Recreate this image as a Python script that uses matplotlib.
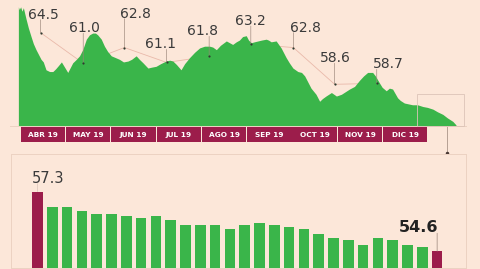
import matplotlib
matplotlib.use("Agg")
import matplotlib.pyplot as plt
from matplotlib.patches import Rectangle

# --- data ---
months = ["ABR 19", "MAY 19", "JUN 19", "JUL 19", "AGO 19",
          "SEP 19", "OCT 19", "NOV 19", "DIC 19"]

# daily series, x in months since start of April
area_x = [-0.04, -0.02, 0.01, 0.04, 0.07, 0.13, 0.18, 0.24, 0.29, 0.35,
          0.40, 0.46, 0.51, 0.57, 0.65, 0.72, 0.78, 0.83, 0.91, 0.98,
          1.05, 1.11, 1.16, 1.24, 1.31, 1.38, 1.46, 1.53, 1.60, 1.66,
          1.71, 1.79, 1.86, 1.93, 2.01, 2.10, 2.19, 2.28, 2.38, 2.46,
          2.56, 2.63, 2.71, 2.82, 2.90, 3.00, 3.10, 3.22, 3.30, 3.37,
          3.45, 3.55, 3.63, 3.74, 3.85, 3.96, 4.07, 4.18, 4.25, 4.33,
          4.42, 4.55, 4.62, 4.69, 4.77, 4.84, 4.91, 4.99, 5.04, 5.10,
          5.17, 5.25, 5.33, 5.43, 5.48, 5.54, 5.65, 5.76, 5.87, 5.94,
          6.02, 6.13, 6.21, 6.28, 6.34, 6.42, 6.53, 6.61, 6.67, 6.75,
          6.87, 6.98, 7.09, 7.18, 7.27, 7.38, 7.49, 7.58, 7.67, 7.78,
          7.84, 7.93, 7.99, 8.08, 8.15, 8.22, 8.33, 8.39, 8.48, 8.57,
          8.66, 8.77, 8.89, 8.99, 9.11, 9.21, 9.33, 9.43, 9.55, 9.62]
area_v = [67.4, 67.1, 67.4, 66.9, 67.3, 66.0, 65.0, 64.0, 63.2, 62.5,
          62.0, 61.4, 61.1, 60.2, 60.0, 60.0, 60.3, 60.6, 61.1, 60.5,
          59.9, 60.5, 61.0, 61.4, 61.8, 62.5, 63.7, 64.2, 64.4, 64.4,
          64.2, 63.7, 62.9, 62.3, 61.8, 61.6, 61.4, 61.1, 61.2, 61.4,
          61.8, 61.4, 61.0, 60.4, 60.5, 60.6, 60.9, 61.2, 61.3, 61.2,
          60.8, 60.2, 60.9, 61.6, 62.2, 62.7, 62.9, 62.9, 62.8, 62.5,
          63.0, 63.5, 63.3, 63.1, 63.4, 63.6, 64.0, 64.1, 63.6, 63.3,
          63.4, 63.5, 63.6, 63.7, 63.6, 63.4, 63.5, 62.7, 61.6, 61.0,
          60.4, 60.0, 59.9, 59.5, 58.9, 58.1, 57.4, 56.6, 56.9, 57.2,
          57.6, 57.2, 57.4, 57.7, 58.0, 58.3, 59.0, 59.5, 59.9, 59.9,
          59.5, 58.7, 58.2, 57.8, 58.1, 58.0, 57.0, 56.7, 56.4, 56.3,
          56.2, 56.2, 56.0, 55.9, 55.7, 55.4, 55.1, 54.7, 54.3, 53.9]

# monthly reference points
avg_x = [0.44, 1.38, 2.29, 3.22, 4.16, 5.08, 6.02, 6.93, 7.86]
avg_v = [64.5, 61.0, 62.8, 61.1, 61.8, 63.2, 62.8, 58.6, 58.7]

# lower panel bars
bar_v = [57.3, 56.6, 56.6, 56.4, 56.3, 56.3, 56.2, 56.1, 56.2, 56.0,
         55.8, 55.8, 55.8, 55.6, 55.8, 55.9, 55.8, 55.7, 55.6, 55.4,
         55.2, 55.1, 54.9, 55.2, 55.1, 54.9, 54.8, 54.6]

# label placement (pixels: dx of text centre, height of text baseline above point)
label_off = [(3, 14), (1, 31), (11, 30), (-6, 14), (-7, 21),
             (0, 19), (12, 16), (1, 22), (12, 15)]

bg = "#fce7d9"
green = "#3ab54a"
wine = "#9c1d4b"
faint = "#ecd2c2"
txt = "#3a3a3a"

W, H = 480.0, 269.0
fig = plt.figure(figsize=(W / 100, H / 100), dpi=100)
fig.patch.set_facecolor(bg)


def px_axes(x0, y0, x1, y1):
    # axes box given in figure pixels, y measured from the top
    return fig.add_axes([x0 / W, 1 - y1 / H, (x1 - x0) / W, (y1 - y0) / H])


# ---- top: area chart ----
ax = px_axes(10, 0, 466, 126)
ax.set_facecolor(bg)
ax.set_xlim(-0.236, 9.83)
ax.set_ylim(53.83, 68.24)
for s in ["top", "left", "right"]:
    ax.spines[s].set_visible(False)
ax.spines["bottom"].set_color(faint)
ax.spines["bottom"].set_linewidth(0.7)
ax.set_xticks([])
ax.set_yticks([])

ax.plot(avg_x, avg_v, color="#e9b9aa", lw=0.6, zorder=1)
ax.fill_between(area_x, area_v, 0, color=green, lw=0, zorder=2)
ax.scatter(avg_x, avg_v, s=2.5, color="#2f3a2f", zorder=4, lw=0)

for xv, yv, (dx, dy) in zip(avg_x, avg_v, label_off):
    ax.annotate("", xy=(xv, yv), xytext=(0, dy - 1), textcoords="offset pixels",
                arrowprops=dict(arrowstyle="-", color="#9a8578", lw=0.45,
                                shrinkA=0, shrinkB=0), zorder=3)
    ax.annotate(f"{yv:.1f}", xy=(xv, yv), xytext=(dx, dy),
                textcoords="offset pixels", ha="center", va="baseline",
                fontsize=10, color=txt, zorder=5)

# highlighted last stretch and link to lower panel
hl_x0, hl_x1, hl_top = 8.74, 9.79, 57.45
ax.add_patch(Rectangle((hl_x0, ax.get_ylim()[0]), hl_x1 - hl_x0,
                       hl_top - ax.get_ylim()[0], fill=False,
                       ec="#dcc4b8", lw=0.6, zorder=3, clip_on=False))
ax.plot([9.40, 9.40], [53.83, 50.77], color="#9a8578", lw=0.5, clip_on=False)
ax.plot([9.40], [50.77], marker="o", ms=1.5, color="#4a3a35", clip_on=False)

# ---- month band ----
band = px_axes(10, 126.7, 466, 142.3)
band.set_xlim(ax.get_xlim())
band.set_ylim(0, 1)
band.axis("off")
for i, m in enumerate(months):
    band.add_patch(Rectangle((i, 0), 0.978, 1, color=wine, lw=0))
    band.text(i + 0.489, 0.48, m, ha="center", va="center", color="white",
              fontsize=5.3, fontweight="bold")

# ---- bottom: bar panel ----
bx = px_axes(11, 154.3, 465.7, 268)
bx.set_facecolor(bg)
bx.set_xlim(-1.79, 28.93)
bx.set_ylim(53.84, 58.99)
for s in bx.spines.values():
    s.set_color(faint)
    s.set_linewidth(0.7)
bx.set_xticks([])
bx.set_yticks([])

xs = list(range(len(bar_v)))
cols = [wine] + [green] * (len(bar_v) - 2) + [wine]
bx.bar(xs, bar_v, width=0.72, color=cols, lw=0, zorder=2)

# first and last bar labels
bx.annotate("", xy=(xs[0], bar_v[0]), xytext=(0, 8), textcoords="offset pixels",
            arrowprops=dict(arrowstyle="-", color="#d9c3b8", lw=0.5,
                            shrinkA=0, shrinkB=0))
bx.annotate(f"{bar_v[0]:.1f}", xy=(xs[0] - 0.36, bar_v[0]), xytext=(0, 8.5),
            textcoords="offset pixels", ha="left", va="baseline",
            fontsize=10.5, color=txt)
bx.annotate("", xy=(xs[-1], bar_v[-1]), xytext=(0, 18), textcoords="offset pixels",
            arrowprops=dict(arrowstyle="-", color="#9a8578", lw=0.5,
                            shrinkA=0, shrinkB=0))
bx.annotate(f"{bar_v[-1]:.1f}", xy=(xs[-1] + 0.36, bar_v[-1]), xytext=(-4, 19),
            textcoords="offset pixels", ha="right", va="baseline",
            fontsize=11.5, fontweight="bold", color="#222222")

fig.savefig("out.png", dpi=100, facecolor=bg)
